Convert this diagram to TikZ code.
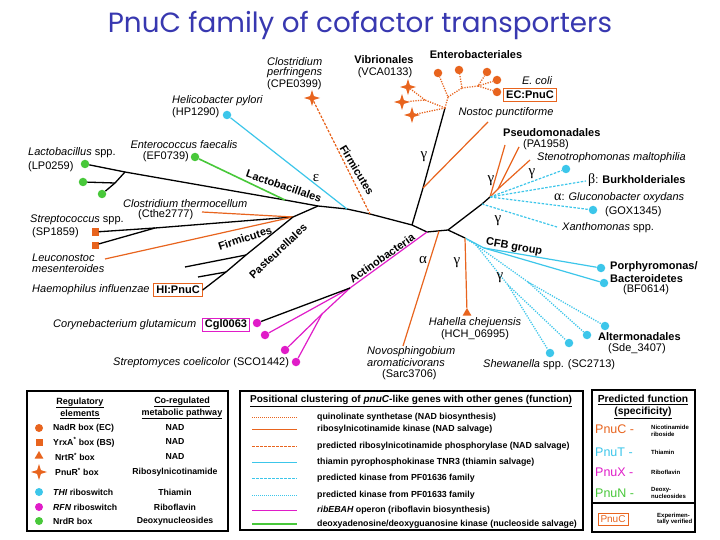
\documentclass[tikz,border=0pt]{standalone}
\usepackage{fontspec}
\setmainfont{Liberation Sans}
\newfontfamily\titlefont{Poppins}
\newfontfamily\grkfont{Liberation Serif}
\usetikzlibrary{shapes.geometric}
\definecolor{org}{HTML}{E8641E}
\definecolor{cyn}{HTML}{3CC6EA}
\definecolor{mag}{HTML}{E01CC8}
\definecolor{grn}{HTML}{48C83A}
\definecolor{ttl}{HTML}{3838B0}
\begin{document}
\begin{tikzpicture}[x=1pt,y=-1pt,
 every node/.style={inner sep=0pt},
 tl/.style={font=\fontsize{11}{12}\selectfont},
 tli/.style={font=\fontsize{11}{12}\selectfont\itshape},
 tlb/.style={font=\fontsize{11}{12}\selectfont\bfseries},
 gk/.style={font=\grkfont\fontsize{15}{15}\selectfont},
 dotm/.style={circle,fill=#1,minimum size=8.5pt},
 sqm/.style={rectangle,fill=org,minimum size=7pt},
 starm/.style={star,star points=4,star point ratio=3,fill=org,minimum size=16pt},
 trim/.style={regular polygon,regular polygon sides=3,fill=org,minimum size=10pt},
 blk/.style={line width=1.3pt,black},
 os/.style={line width=1.2pt,org},
 odsh/.style={line width=1.2pt,org,dash pattern=on 2.5pt off 1.5pt},
 odt/.style={line width=1.3pt,org,dash pattern=on 1.2pt off 1.3pt},
 cs/.style={line width=1.2pt,cyn},
 cdsh/.style={line width=1.2pt,cyn,dash pattern=on 2.5pt off 1.5pt},
 cdt/.style={line width=1.3pt,cyn,dash pattern=on 1.2pt off 1.3pt},
 ms/.style={line width=1.2pt,mag},
 gs/.style={line width=1.6pt,grn},
 lg/.style={font=\fontsize{8.7}{10}\selectfont\bfseries},
 lg2/.style={font=\fontsize{8.8}{10}\selectfont\bfseries},
 lgh/.style={font=\fontsize{9}{12}\selectfont\bfseries,align=center},
 sm/.style={font=\fontsize{6}{6.6}\selectfont\bfseries,align=left},
 fn/.style={font=\fontsize{12.5}{13}\selectfont},
 legbox/.style={draw=black,line width=1.5pt},
 tbox/.style={draw=#1,line width=1pt,font=\fontsize{11}{12}\selectfont\bfseries,minimum height=13pt,inner xsep=2.5pt}
]
\useasboundingbox (0,0) rectangle (720,540);
\fill[white] (0,0) rectangle (720,540);

% title
\node[font=\titlefont\fontsize{27.8}{28}\selectfont,text=ttl,anchor=base] (title) at (360,33) {PnuC family of cofactor transporters};

% ---------- junctions ----------
\coordinate (la1) at (125,172);
\coordinate (la2) at (115,183);
\coordinate (g1) at (285,200);
\coordinate (jl) at (318,206);
\coordinate (h1) at (347,209);
\coordinate (f1) at (370,214);
\coordinate (p1) at (412,225);
\coordinate (p2) at (427,232);
\coordinate (pa) at (439,231);
\coordinate (p3) at (448,230);
\coordinate (p4) at (465,238);
\coordinate (p5) at (490,197);
\coordinate (n0) at (423,188);
\coordinate (e0) at (445,108);
\coordinate (es) at (425,100);
\coordinate (eu) at (448,97);
\coordinate (em) at (462,88);
\coordinate (er) at (478,86);
\coordinate (o1) at (498,189);
\coordinate (c1) at (484,248);
\coordinate (d0) at (476,245);
\coordinate (d1) at (508,285);
\coordinate (d2) at (528,282);
\coordinate (xa) at (482,204);
\coordinate (jf) at (293,217);
\coordinate (fs) at (155,228);
\coordinate (pb1) at (246,255);
\coordinate (pb2) at (226,272);
\coordinate (aa) at (350,288);
\coordinate (ab) at (322,314);
% free ends
\coordinate (nost) at (488,122);
\coordinate (ps1) at (505,145);
\coordinate (ps2) at (519,147);
\coordinate (ps3) at (530,160);
\coordinate (burk) at (586,181);
\coordinate (xan) at (557,227);
\coordinate (novo) at (403,346);
\coordinate (cthe) at (202,212);
\coordinate (leuc) at (105,259);
\coordinate (pt1) at (185,267);
\coordinate (pt2) at (198,277);

% ---------- leaf markers ----------
\node[dotm=grn] (lp) at (85,164) {};
\node[dotm=grn] (lb2) at (83,182) {};
\node[dotm=grn] (lb3) at (102,194) {};
\node[dotm=grn] (ef) at (195,157) {};
\node[dotm=cyn] (hp) at (227,115) {};
\node[starm] (cpe) at (312,98) {};
\node[starm] (s1) at (408,87) {};
\node[starm] (s2) at (402,102) {};
\node[starm] (s3) at (412,115) {};
\node[dotm=org] (ed1) at (438,73) {};
\node[dotm=org] (ed2) at (459,70) {};
\node[dotm=org] (ed3) at (487,72) {};
\node[dotm=org] (ed4) at (497,80) {};
\node[dotm=org] (ed5) at (497,92) {};
\node[dotm=cyn] (steno) at (566,169) {};
\node[dotm=cyn] (gox) at (593,210) {};
\node[dotm=cyn] (porph) at (601,268) {};
\node[dotm=cyn] (bact) at (604,283) {};
\node[dotm=cyn] (al1) at (605,326) {};
\node[dotm=cyn] (al2) at (587,335) {};
\node[dotm=cyn] (al3) at (569,343) {};
\node[dotm=cyn] (al4) at (550,353) {};
\node[trim] (hah) at (467,313) {};
\node[dotm=mag] (cgl) at (257,323) {};
\node[dotm=mag] (ac1) at (265,335) {};
\node[dotm=mag] (ac2) at (285,350) {};
\node[dotm=mag] (ac3) at (296,362) {};
\node[sqm] (sp1) at (95,232) {};
\node[sqm] (sp2) at (95,245) {};

% boxes
\node[tbox=org] (ecbox) at (530,95) {EC:PnuC};
\node[tbox=org] (hibox) at (178,290) {HI:PnuC};
\node[tbox=mag] (cgbox) at (226,325) {Cgl0063};

% ---------- branches ----------
\draw[blk] (lp) -- (la1) -- (g1) -- (jl) -- (h1) -- (f1) -- (p1) -- (p2) -- (p3) -- (xa) -- (p5);
\draw[blk] (la1) -- (la2) -- (lb3);
\draw[blk] (la2) -- (lb2);
\draw[gs] (ef) -- (g1);
\draw[cs] (hp) -- (h1);
\draw[odsh] (cpe) -- (f1);
\draw[blk] (p1) -- (n0) -- (e0);
\draw[os] (n0) -- (nost);
\draw[odt] (e0) -- (s3);
\draw[odt] (e0) -- (es) -- (s2);
\draw[odt] (es) -- (s1);
\draw[odt] (e0) -- (eu) -- (ed1);
\draw[odt] (eu) -- (em) -- (ed2);
\draw[odt] (em) -- (er) -- (ed3);
\draw[odt] (er) -- (ed4);
\draw[odt] (er) -- (ed5);
\draw[blk] (p3) -- (p4);
\draw[os] (p5) -- (ps1);
\draw[os] (p5) -- (o1) -- (ps2);
\draw[os] (o1) -- (ps3);
\draw[cdsh] (p5) -- (steno);
\draw[cdsh] (p5) -- (burk);
\draw[cdsh] (p5) -- (gox);
\draw[cdsh] (xa) -- (xan);
\draw[cs] (p4) -- (c1) -- (porph);
\draw[cs] (c1) -- (bact);
\draw[cdt] (p4) -- (d0) -- (d1) -- (al4);
\draw[cdt] (d1) -- (al3);
\draw[cdt] (d0) -- (d2) -- (al2);
\draw[cdt] (d2) -- (al1);
\draw[os] (p4) -- (hah);
\draw[os] (pa) -- (novo);
\draw[ms] (p2) -- (aa) -- (ac1);
\draw[ms] (aa) -- (ab) -- (ac2);
\draw[ms] (ab) -- (ac3);
\draw[blk] (aa) -- (cgl);
\draw[blk] (jl) -- (jf) -- (fs) -- (sp1);
\draw[blk] (fs) -- (sp2);
\draw[os] (jf) -- (cthe);
\draw[os] (jf) -- (leuc);
\draw[blk] (jf) -- (pb1) -- (pb2) -- (hibox.east);
\draw[blk] (pb1) -- (pt1);
\draw[blk] (pb2) -- (pt2);

% ---------- tree labels ----------
\node[tli,anchor=west] (cp1) at (267,62) {Clostridium};
\node[tli,anchor=west] (cp2) at (267,73) {perfringens};
\node[tl,anchor=west] (cp3) at (267,85) {(CPE0399)};
\node[tlb] (vib1) at (384,60) {Vibrionales};
\node[tl] (vib2) at (385,73) {(VCA0133)};
\node[tlb] (ent) at (476,55) {Enterobacteriales};
\node[tli] (ecoli) at (537,81) {E. coli};
\node[tli] (nostl) at (506,113) {Nostoc punctiforme};
\node[tli,anchor=west] (hp1) at (172,101) {Helicobacter pylori};
\node[tl,anchor=west] (hp2) at (172,113) {(HP1290)};
\node[tli] (ef1) at (184,145) {Enterococcus faecalis};
\node[tl,anchor=east] (ef2) at (189,157) {(EF0739)};
\node[tl,anchor=west] (lb1) at (28,153) {\textit{Lactobacillus} spp.};
\node[tl,anchor=west] (lbb) at (28,167) {(LP0259)};
\node[tli,anchor=west] (ct1) at (123,204) {Clostridium thermocellum};
\node[tl,anchor=west] (ct2) at (138,215) {(Cthe2777)};
\node[tl,anchor=west] (st1) at (30,220) {\textit{Streptococcus} spp.};
\node[tl,anchor=west] (st2) at (32,233) {(SP1859)};
\node[tli,anchor=west] (ln1) at (32,258) {Leuconostoc};
\node[tli,anchor=west] (ln2) at (32,269) {mesenteroides};
\node[tli,anchor=west] (hil) at (32,290) {Haemophilus influenzae};
\node[tli,anchor=west] (cgt) at (53,325) {Corynebacterium glutamicum};
\node[tl,anchor=west] (scl) at (113,363) {\textit{Streptomyces coelicolor} (SCO1442)};
\node[tlb,anchor=west] (psl1) at (503,133) {Pseudomonadales};
\node[tl,anchor=west] (psl2) at (523,145) {(PA1958)};
\node[tli,anchor=west] (stl) at (537,158) {Stenotrophomonas maltophilia};
\node[tl,anchor=west] (bkl) at (588,180) {{\grkfont\fontsize{14}{14}\selectfont β}: \textbf{Burkholderiales}};
\node[tl,anchor=west] (gxl1) at (554,198) {{\grkfont\fontsize{14}{14}\selectfont α}: \textit{Gluconobacter oxydans}};
\node[tl,anchor=west] (gxl2) at (605,212) {(GOX1345)};
\node[tl,anchor=west] (xnl) at (562,228) {\textit{Xanthomonas} spp.};
\node[tlb,anchor=west] (pol1) at (610,267) {Porphyromonas/};
\node[tlb,anchor=west] (pol2) at (610,279) {Bacteroidetes};
\node[tl,anchor=west] (pol3) at (623,290) {(BF0614)};
\node[tlb,anchor=west] (atl1) at (598,337) {Altermonadales};
\node[tl,anchor=west] (atl2) at (608,349) {(Sde\_3407)};
\node[tl,anchor=west] (shl) at (483,365) {\textit{Shewanella} spp. (SC2713)};
\node[tli] (hhl1) at (475,323) {Hahella chejuensis};
\node[tl] (hhl2) at (475,335) {(HCH\_06995)};
\node[tli,anchor=west] (nvl1) at (367,352) {Novosphingobium};
\node[tli,anchor=west] (nvl2) at (367,363) {aromaticivorans};
\node[tl,anchor=west] (nvl3) at (382,375) {(Sarc3706)};
% clade labels
\node[tlb,rotate=-19] (cl1) at (284,186) {Lactobacillales};
\node[tlb,rotate=-59] (cl2) at (357,170) {Firmicutes};
\node[tlb,rotate=18] (cl3) at (245,238) {Firmicutes};
\node[tlb,rotate=43] (cl4) at (278,251) {Pasteurellales};
\node[tlb,rotate=35] (cl5) at (382,258) {Actinobacteria};
\node[tlb,rotate=-10] (cl6) at (514,247) {CFB group};
\node[gk] (gr1) at (316,178) {ε};
\node[gk] (gr2) at (424,157) {γ};
\node[gk] (gr3) at (491,181) {γ};
\node[gk] (gr4) at (532,174) {γ};
\node[gk] (gr5) at (498,221) {γ};
\node[gk] (gr6) at (423,260) {α};
\node[gk] (gr7) at (457,263) {γ};
\node[gk] (gr8) at (500,278) {γ};

% ---------- legend 1 ----------
\draw[legbox] (27,391) rectangle (228,531);
\node[lgh] (rh1) at (80,408) {\underline{Regulatory}\\\underline{elements}};
\node[lgh] (rh2) at (182,408) {\underline{Co-regulated}\\\underline{metabolic pathway}};
\node[dotm=org,minimum size=8pt] (k1) at (39,428) {};
\node[sqm] (k2) at (39,442) {};
\node[trim] (k3) at (39,456) {};
\node[starm] (k4) at (39,472) {};
\node[dotm=cyn,minimum size=8pt] (k5) at (39,492) {};
\node[dotm=mag,minimum size=8pt] (k6) at (39,507) {};
\node[dotm=grn,minimum size=8pt] (k7) at (39,521) {};
\node[lg,anchor=west] (t1) at (53,428) {NadR box (EC)};
\node[lg,anchor=west] (t2) at (53,442) {YrxA\textsuperscript{*} box (BS)};
\node[lg,anchor=west] (t3) at (55,457) {NrtR\textsuperscript{*} box};
\node[lg,anchor=west] (t4) at (55,472) {PnuR\textsuperscript{*} box};
\node[lg,anchor=west] (t5) at (53,492) {\textit{THI} riboswitch};
\node[lg,anchor=west] (t6) at (53,507) {\textit{RFN} riboswitch};
\node[lg,anchor=west] (t7) at (53,521) {NrdR box};
\node[lg] (u1) at (175,428) {NAD};
\node[lg] (u2) at (175,442) {NAD};
\node[lg] (u3) at (175,457) {NAD};
\node[lg] (u4) at (175,472) {Ribosylnicotinamide};
\node[lg] (u5) at (175,492) {Thiamin};
\node[lg] (u6) at (175,507) {Riboflavin};
\node[lg] (u7) at (175,521) {Deoxynucleosides};

% ---------- legend 2 ----------
\draw[legbox] (240,391) rectangle (583,530);
\node[font=\fontsize{10}{11}\selectfont\bfseries,anchor=west] (ph) at (250,401) {\underline{Positional clustering of \textit{pnuC}-like genes with other genes (function)}};
\coordinate (q1a) at (252,417); \coordinate (q1b) at (297,417);
\coordinate (q2a) at (252,429); \coordinate (q2b) at (297,429);
\coordinate (q3a) at (252,446); \coordinate (q3b) at (297,446);
\coordinate (q4a) at (252,462); \coordinate (q4b) at (297,462);
\coordinate (q5a) at (252,478); \coordinate (q5b) at (297,478);
\coordinate (q6a) at (252,495); \coordinate (q6b) at (297,495);
\coordinate (q7a) at (252,510); \coordinate (q7b) at (297,510);
\coordinate (q8a) at (252,524); \coordinate (q8b) at (297,524);
\draw[org,line width=0.8pt,dash pattern=on 0.8pt off 1.2pt] (q1a) -- (q1b);
\draw[os,line width=0.9pt] (q2a) -- (q2b);
\draw[org,line width=0.9pt,dash pattern=on 2.5pt off 1.5pt] (q3a) -- (q3b);
\draw[cs,line width=0.9pt] (q4a) -- (q4b);
\draw[cyn,line width=0.9pt,dash pattern=on 2.5pt off 1.5pt] (q5a) -- (q5b);
\draw[cyn,line width=0.9pt,dash pattern=on 0.8pt off 1.2pt] (q6a) -- (q6b);
\draw[ms,line width=0.9pt] (q7a) -- (q7b);
\draw[gs] (q8a) -- (q8b);
\node[lg2,anchor=west] (r1) at (317,417) {quinolinate synthetase (NAD biosynthesis)};
\node[lg2,anchor=west] (r2) at (317,429) {ribosylnicotinamide kinase (NAD salvage)};
\node[lg2,anchor=west] (r3) at (317,446) {predicted ribosylnicotinamide phosphorylase (NAD salvage)};
\node[lg2,anchor=west] (r4) at (317,462) {thiamin pyrophosphokinase TNR3 (thiamin salvage)};
\node[lg2,anchor=west] (r5) at (317,478) {predicted kinase from PF01636 family};
\node[lg2,anchor=west] (r6) at (317,495) {predicted kinase from PF01633 family};
\node[lg2,anchor=west] (r7) at (317,510) {\textit{ribEBAH} operon (riboflavin biosynthesis)};
\node[lg2,anchor=west] (r8) at (317,524) {deoxyadenosine/deoxyguanosine kinase (nucleoside salvage)};

% ---------- legend 3 ----------
\draw[legbox] (592,390) rectangle (695,532);
\draw[line width=1.2pt] (592,503) -- (695,503);
\node[font=\fontsize{10.3}{12}\selectfont\bfseries,align=center] (fh) at (643,407) {\underline{Predicted function}\\\underline{(specificity)}};
\node[fn,text=org,anchor=west] (f1n) at (595,429) {PnuC -};
\node[sm,anchor=west] (f1t) at (651,431) {Nicotinamide\\riboside};
\node[fn,text=cyn,anchor=west] (f2n) at (595,452) {PnuT -};
\node[sm,anchor=west] (f2t) at (651,452) {Thiamin};
\node[fn,text=mag,anchor=west] (f3n) at (595,472) {PnuX -};
\node[sm,anchor=west] (f3t) at (651,472) {Riboflavin};
\node[fn,text=grn,anchor=west] (f4n) at (595,493) {PnuN -};
\node[sm,anchor=west] (f4t) at (651,493) {Deoxy-\\nucleosides};
\node[draw=org,line width=1pt,text=org,font=\fontsize{10}{10}\selectfont,minimum width=30pt,minimum height=12pt] (pbox) at (613,519) {PnuC};
\node[sm,anchor=west] (ev) at (657,519) {Experimen-\\tally verified};
\end{tikzpicture}
\end{document}
